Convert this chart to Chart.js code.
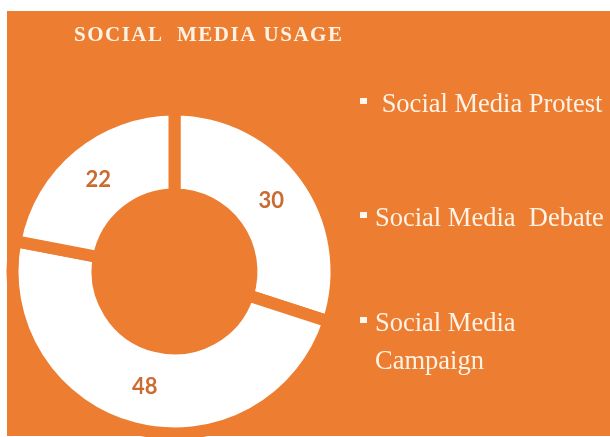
<!DOCTYPE html>
<html lang="en">
<head>
  <meta charset="UTF-8">
  <title>Social Media Usage</title>
  <script src="https://cdn.jsdelivr.net/npm/chart.js"></script>
  <style>
    body { margin: 0; background: #ffffff; }
    #wrap { position: relative; width: 610px; height: 437px; }
  </style>
</head>
<body>
  <div id="wrap"><canvas id="usageChart"></canvas></div>

  <script>
    // categories and values of the ring, clockwise from 12 o'clock
    const categories = ["Social Media Protest", "Social Media Debate", "Social Media Campaign"];
    const usage = [30, 48, 22];
    // legend text as it is laid out on the right
    const legendLines = [[" Social Media Protest"], ["Social Media  Debate"], ["Social Media", "Campaign"]];
    const chartTitle = "SOCIAL  MEDIA USAGE";

    const ORANGE = "#ED7D31";
    const CREAM = "#FFF3E6";

    // orange panel + title behind everything
    const panelPlugin = {
      id: "panel",
      beforeDraw(chart) {
        const ctx = chart.ctx;
        ctx.save();
        ctx.fillStyle = ORANGE;
        ctx.fillRect(7, 11, 603, 425);
        ctx.fillStyle = CREAM;
        ctx.font = 'bold 21px "Liberation Serif"';
        ctx.letterSpacing = "1.5px";
        ctx.textBaseline = "alphabetic";
        ctx.fillText(chartTitle, 74, 41);
        ctx.restore();
      }
    };

    // value printed in the middle of each slice
    const valueLabels = {
      id: "valueLabels",
      afterDatasetsDraw(chart) {
        const ctx = chart.ctx;
        const meta = chart.getDatasetMeta(0);
        ctx.save();
        ctx.fillStyle = "#CA6C31";
        ctx.font = 'bold 22px "Lato"';
        ctx.textAlign = "center";
        ctx.textBaseline = "middle";
        meta.data.forEach((arc, i) => {
          const p = arc.tooltipPosition();
          ctx.fillText(String(chart.data.datasets[0].data[i]), p.x, p.y);
        });
        ctx.restore();
      }
    };

    // legend drawn by hand: square marker + serif text, wrapped lines
    const sideLegend = {
      id: "sideLegend",
      afterDraw(chart, args, opts) {
        const ctx = chart.ctx;
        ctx.save();
        ctx.font = '26.5px "Liberation Serif"';
        ctx.textBaseline = "alphabetic";
        chart.data.labels.forEach((label, i) => {
          const cy = opts.rows[i];
          ctx.fillStyle = "#FFF8F0";
          ctx.fillRect(opts.x, cy - 3, 7, 6);
          ctx.fillStyle = CREAM;
          legendLines[i].forEach((line, j) => {
            ctx.fillText(line, opts.x + 15, cy + 11 + j * opts.lineHeight);
          });
        });
        ctx.restore();
      }
    };

    new Chart(document.getElementById("usageChart"), {
      type: "doughnut",
      data: {
        labels: categories,
        datasets: [{
          data: usage,
          backgroundColor: "#FFFFFF",
          borderColor: ORANGE,
          borderWidth: 12
        }]
      },
      options: {
        responsive: true,
        maintainAspectRatio: false,
        animation: false,
        events: [],
        radius: 162,
        cutout: "47.5%",
        layout: { padding: { left: 0, right: 261, top: 106, bottom: 0 } },
        plugins: {
          legend: { display: false },
          tooltip: { enabled: false },
          sideLegend: { x: 360, rows: [101, 215, 320], lineHeight: 38 }
        }
      },
      plugins: [panelPlugin, valueLabels, sideLegend]
    });
  </script>
</body>
</html>
